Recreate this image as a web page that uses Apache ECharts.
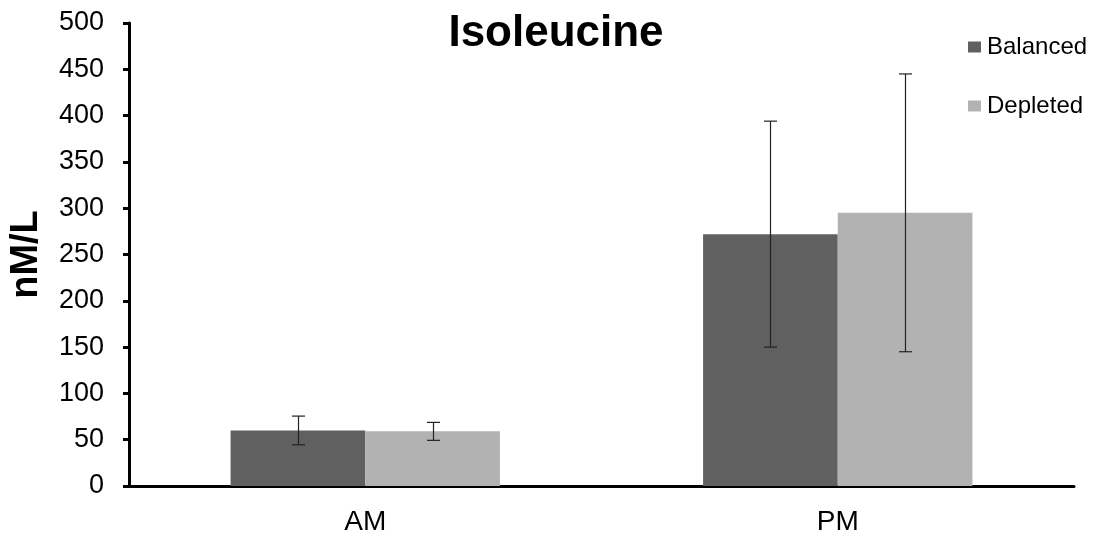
<!DOCTYPE html>
<html><head><meta charset="utf-8">
<script src="https://cdn.jsdelivr.net/npm/echarts@6/dist/echarts.min.js"></script>
<style>html,body{margin:0;padding:0;background:#fff}#c{width:1101px;height:545px}</style>
</head><body><div id="c"></div>
<script>
const categories = ['AM', 'PM'];
const balanced = [60, 272];
const depleted = [59, 295];
const balancedErr = [15.5, 122];
const depletedErr = [9.7, 150];
const yTicks = [0, 50, 100, 150, 200, 250, 300, 350, 400, 450, 500];

const BAR_FRAC = 0.285;
const FONT = 'Liberation Sans, Arial, sans-serif';

function errSeries(name, vals, errs, side) {
  return {
    type: 'custom', name: name + ' err', silent: true, z: 5,
    data: categories.map((c, i) => [i, vals[i] - errs[i], vals[i] + errs[i]]),
    renderItem: function (params, api) {
      const band = api.size([1, 0])[0];
      const off = side * band * BAR_FRAC / 2;
      const lo = api.coord([api.value(0), api.value(1)]);
      const hi = api.coord([api.value(0), api.value(2)]);
      const x = Math.round(lo[0] + off) + 0.5;
      const cw = 6.5;
      const st = { stroke: '#222', lineWidth: 1.2 };
      return { type: 'group', children: [
        { type: 'line', shape: { x1: x, y1: hi[1], x2: x, y2: lo[1] }, style: st },
        { type: 'line', shape: { x1: x - cw, y1: hi[1], x2: x + cw, y2: hi[1] }, style: st },
        { type: 'line', shape: { x1: x - cw, y1: lo[1], x2: x + cw, y2: lo[1] }, style: st }
      ]};
    }
  };
}

const chart = echarts.init(document.getElementById('c'), null, { renderer: 'canvas' });
chart.setOption({
  animation: false,
  backgroundColor: '#fff',
  title: { text: 'Isoleucine', left: 551, top: 7, textAlign: 'center',
    textStyle: { fontFamily: FONT, fontSize: 44, fontWeight: 'bold', color: '#000' } },
  legend: {
    orient: 'vertical', left: 963, top: 30, itemGap: 35, itemWidth: 13, itemHeight: 11,
    icon: 'rect', data: ['Balanced', 'Depleted'],
    textStyle: { fontFamily: FONT, fontSize: 24, color: '#000', padding: [0, 0, 0, 1] }
  },
  grid: { left: 126, right: 27, top: 23, bottom: 59, containLabel: false },
  xAxis: {
    type: 'category', data: categories,
    axisLine: { lineStyle: { color: '#000', width: 3 } },
    axisTick: { show: false },
    axisLabel: { fontFamily: FONT, fontSize: 28, color: '#000', margin: 22 }
  },
  yAxis: {
    type: 'value', min: 0, max: 500, interval: 50,
    name: 'nM/L', nameLocation: 'middle', nameGap: 83, nameRotate: 90,
    nameTextStyle: { fontFamily: FONT, fontSize: 38, fontWeight: 'bold', color: '#000' },
    axisLine: { show: true, lineStyle: { color: '#000', width: 3 } },
    axisTick: { show: true, length: 6, lineStyle: { color: '#000', width: 3 } },
    axisLabel: { fontFamily: FONT, fontSize: 27, color: '#000', margin: 25,
      formatter: v => yTicks.includes(v) ? String(v) : '' },
    splitLine: { show: false }
  },
  series: [
    { name: 'Balanced', type: 'bar', data: balanced, barWidth: (BAR_FRAC * 100) + '%', barGap: '0%',
      itemStyle: { color: '#606060' } },
    { name: 'Depleted', type: 'bar', data: depleted, barWidth: (BAR_FRAC * 100) + '%', barGap: '0%',
      itemStyle: { color: '#b2b2b2' } },
    errSeries('Balanced', balanced, balancedErr, -1),
    errSeries('Depleted', depleted, depletedErr, 1)
  ]
});
</script></body></html>
